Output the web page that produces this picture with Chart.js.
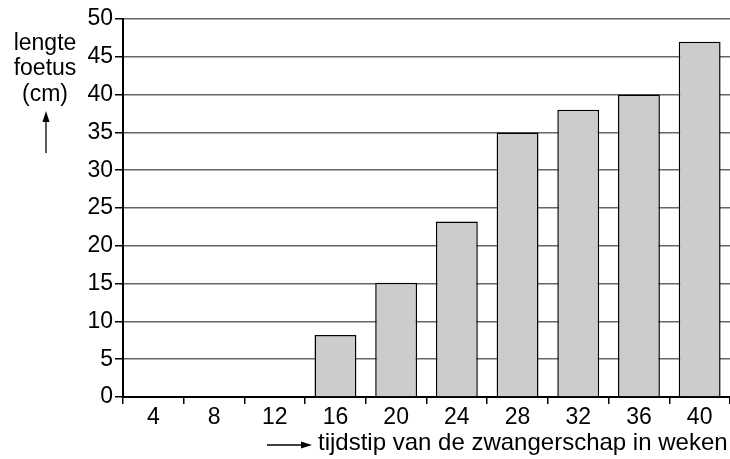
<!DOCTYPE html>
<html>
<head>
<meta charset="utf-8">
<script src="https://cdn.jsdelivr.net/npm/chart.js@4"></script>
<style>
  html, body { margin: 0; padding: 0; background: #fff; }
  #wrap { width: 730px; height: 459px; }
</style>
</head>
<body>
<div id="wrap"><canvas id="grafiek"></canvas></div>
<script>
// Gegevens
const weken = ['4', '8', '12', '16', '20', '24', '28', '32', '36', '40'];
const lengte = [0, 0, 0, 8.2, 15.1, 23.2, 35, 38, 40, 47];
const yTicks = [0, 5, 10, 15, 20, 25, 30, 35, 40, 45, 50];

const font = "'Liberation Sans', Arial, sans-serif";

// Astitels met pijlen
const titels = {
  id: 'titels',
  afterDraw(chart) {
    const ctx = chart.ctx;
    ctx.save();
    ctx.fillStyle = '#000';
    ctx.strokeStyle = '#000';
    ctx.font = '23px ' + font;
    ctx.textAlign = 'center';
    ctx.textBaseline = 'middle';
    ctx.fillText('lengte', 45, 44);
    ctx.fillText('foetus', 45, 69);
    ctx.fillText('(cm)', 45, 95);
    // pijl omhoog
    ctx.lineWidth = 1.3;
    ctx.beginPath();
    ctx.moveTo(46, 153);
    ctx.lineTo(46, 118);
    ctx.stroke();
    ctx.beginPath();
    ctx.moveTo(46, 111);
    ctx.lineTo(42.5, 122);
    ctx.lineTo(49.5, 122);
    ctx.closePath();
    ctx.fill();
    // pijl naar rechts
    ctx.beginPath();
    ctx.moveTo(267, 445);
    ctx.lineTo(305, 445);
    ctx.stroke();
    ctx.beginPath();
    ctx.moveTo(312, 445);
    ctx.lineTo(301, 441.5);
    ctx.lineTo(301, 448.5);
    ctx.closePath();
    ctx.fill();
    ctx.textAlign = 'left';
    ctx.font = '24px ' + font;
    ctx.fillText('tijdstip van de zwangerschap in weken', 318, 443);
    ctx.restore();
  }
};

new Chart(document.getElementById('grafiek'), {
  type: 'bar',
  data: {
    labels: weken,
    datasets: [{
      data: lengte,
      backgroundColor: '#cccccc',
      borderColor: '#000',
      borderWidth: 1.5,
      barPercentage: 0.69,
      categoryPercentage: 1
    }]
  },
  options: {
    responsive: true,
    maintainAspectRatio: false,
    animation: false,
    layout: { padding: { top: 19, right: 0, left: 0, bottom: 0 } },
    plugins: { legend: { display: false }, tooltip: { enabled: false } },
    scales: {
      x: {
        grid: { offset: true, drawOnChartArea: false, drawTicks: true, tickLength: 7, color: '#000', lineWidth: 1.5 },
        border: { color: '#000', width: 2 },
        ticks: { color: '#000', font: { family: font, size: 23 }, padding: 0, maxRotation: 0 },
        afterFit(scale) { scale.height = 62; }
      },
      y: {
        min: 0,
        max: 50,
        afterBuildTicks(scale) { scale.ticks = yTicks.map(v => ({ value: v })); },
        grid: { color: '#666', lineWidth: 1.5, tickLength: 8, tickColor: '#000' },
        border: { color: '#000', width: 2 },
        ticks: { color: '#000', font: { family: font, size: 23 }, padding: 2 },
        afterFit(scale) { scale.width = 123; }
      }
    }
  },
  plugins: [titels]
});
</script>
</body>
</html>
